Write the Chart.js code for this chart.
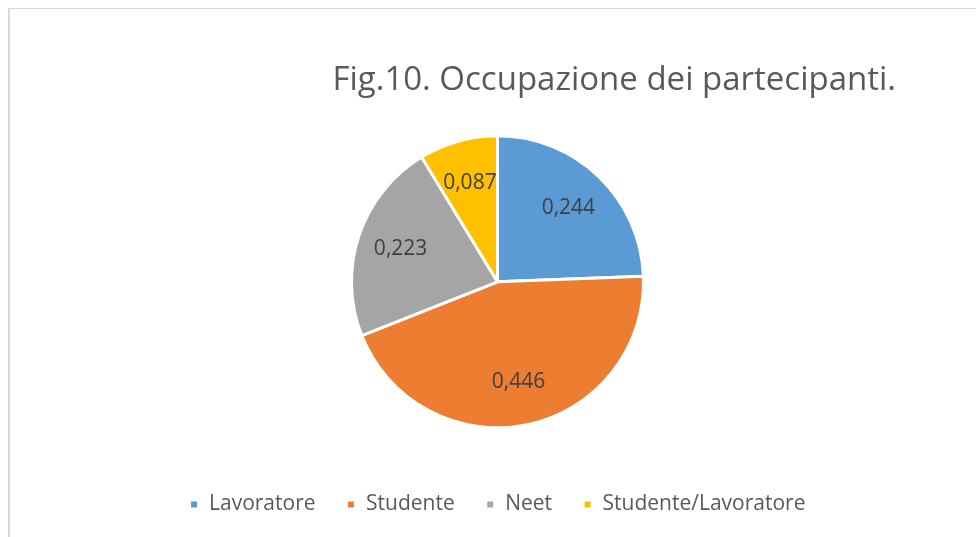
<!DOCTYPE html>
<html>
<head>
<meta charset="utf-8">
<script src="https://cdn.jsdelivr.net/npm/chart.js@4/dist/chart.umd.min.js"></script>
<style>
    html, body { margin: 0; padding: 0; background: #fff; overflow: hidden; }
    #frame {
        position: absolute; left: 8px; top: 8px; right: -10px; bottom: -10px;
        border-left: 2px solid #d9d9d9; border-top: 1px solid #d9d9d9;
    }
    #wrap { position: absolute; left: 0; top: 0; width: 976px; height: 537px; }
</style>
</head>
<body>
<div id="frame"></div>
<div id="wrap"><canvas id="pie" width="976" height="537"></canvas></div>
<script>
// Occupazione dei partecipanti
const categories = ['Lavoratore', 'Studente', 'Neet', 'Studente/Lavoratore'];
const shares = [0.244, 0.446, 0.223, 0.087];
const sliceColors = ['#5B9BD5', '#ED7D31', '#A5A5A5', '#FFC000'];
const chartTitle = 'Fig.10. Occupazione dei partecipanti.';

const FONT = "'Open Sans', sans-serif";

// draws the value of each slice inside it, with Italian decimal comma
const sliceLabels = {
    id: 'sliceLabels',
    afterDatasetsDraw(chart) {
        const ctx = chart.ctx;
        const meta = chart.getDatasetMeta(0);
        ctx.save();
        ctx.font = '21px ' + FONT;
        ctx.fillStyle = '#404040';
        ctx.textAlign = 'center';
        ctx.textBaseline = 'middle';
        meta.data.forEach((arc, i) => {
            const p = arc.getProps(['x', 'y', 'startAngle', 'endAngle', 'outerRadius'], true);
            const mid = (p.startAngle + p.endAngle) / 2;
            const r = p.outerRadius * 0.7;
            const text = shares[i].toFixed(3).replace('.', ',');
            ctx.fillText(text, p.x + Math.cos(mid) * r, p.y + Math.sin(mid) * r);
        });
        ctx.restore();
    }
};

const ctx = document.getElementById('pie').getContext('2d');
new Chart(ctx, {
    type: 'pie',
    data: {
        labels: categories,
        datasets: [{
            data: shares,
            backgroundColor: sliceColors,
            borderColor: '#ffffff',
            borderWidth: 3,
            radius: 146
        }]
    },
    options: {
        responsive: false,
        animation: false,
        layout: { padding: { top: 61, bottom: 12, left: 99, right: 80 } },
        plugins: {
            title: {
                display: true,
                text: chartTitle,
                align: 'end',
                color: '#595959',
                font: { family: FONT, size: 33, weight: 'normal' },
                padding: { top: 0, bottom: 0 }
            },
            legend: {
                position: 'bottom',
                labels: {
                    color: '#595959',
                    font: { family: FONT, size: 21 },
                    boxWidth: 9,
                    boxHeight: 9,
                    padding: 31
                }
            },
            tooltip: { enabled: false }
        }
    },
    plugins: [sliceLabels]
});
</script>
</body>
</html>
